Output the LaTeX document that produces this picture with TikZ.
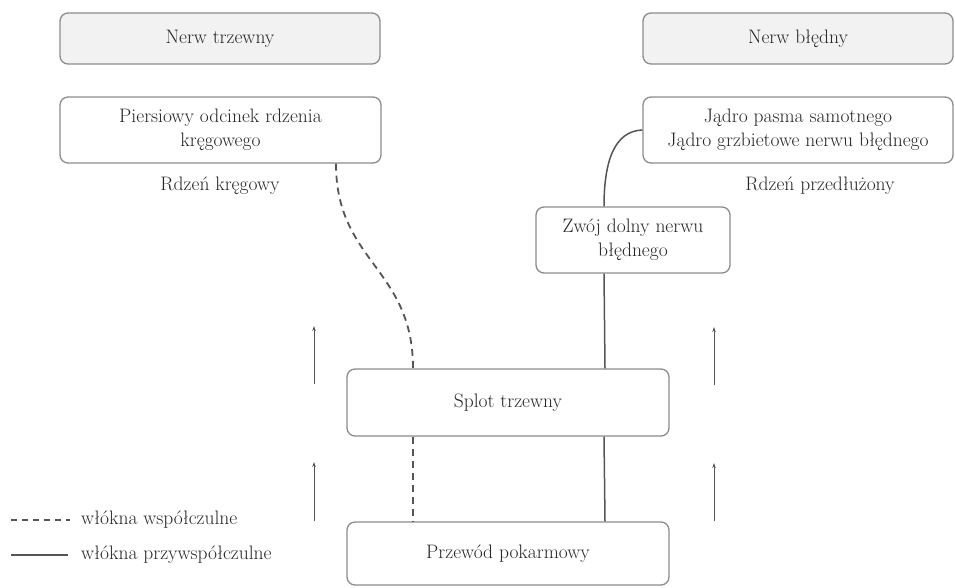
\documentclass[tikz,border=0pt]{standalone}
\usepackage{fontspec}
\usetikzlibrary{calc,arrows.meta}
\definecolor{boxline}{HTML}{8C8C8C}
\definecolor{txt}{HTML}{262626}
\definecolor{head}{HTML}{F2F2F2}
\definecolor{wire}{HTML}{555555}
\begin{document}
\begin{tikzpicture}[x=1pt,y=-1pt,
 box/.style={draw=boxline, line width=1.3pt, rounded corners=8pt, fill=white, text=txt, align=center, font=\fontsize{19.5}{23.5}\selectfont, inner sep=0pt},
 headbox/.style={box, fill=head},
 lbl/.style={text=txt, font=\fontsize{19.5}{24}\selectfont, inner sep=0pt},
 symp/.style={draw=wire, line width=1.8pt, dash pattern=on 7pt off 5pt},
 para/.style={draw=wire, line width=1.5pt},
 uparrow/.style={draw=wire, line width=1pt, -{Stealth[length=5pt,width=3.5pt]}}
]
\useasboundingbox (0,0) rectangle (955,587);
% boxes
\node[headbox, minimum width=320pt, minimum height=51pt] (nt) at (220,38.5) {Nerw trzewny};
\node[box, minimum width=321pt, minimum height=66pt] (pier) at (220.5,130) {Piersiowy odcinek rdzenia\\kręgowego};
\node[lbl] (rk) at (220,186) {Rdzeń kręgowy};
\node[headbox, minimum width=310pt, minimum height=51pt] (nb) at (798,38.5) {Nerw błędny};
\node[box, minimum width=310pt, minimum height=66pt] (jad) at (798,130) {Jądro pasma samotnego\\Jądro grzbietowe nerwu błędnego};
\node[lbl] (rp) at (820,186) {Rdzeń przedłużony};
\node[box, minimum width=194pt, minimum height=66pt] (zw) at (633,240) {Zwój dolny nerwu\\błędnego};
\node[box, minimum width=322pt, minimum height=67pt] (sp) at (508,402.5) {Splot trzewny};
\node[box, minimum width=322pt, minimum height=63pt] (pp) at (508,553.5) {Przewód pokarmowy};
% sympathetic (dashed)
\draw[symp] ($(pier.south)+(115.5,0)$) .. controls (336,262) and (413,268) .. ($(sp.north)+(-95,0)$);
\draw[symp] ($(sp.south)+(-95,0)$) -- ($(pp.north)+(-95,0)$);
% parasympathetic (solid)
\draw[para] (jad.west) .. controls (614,131) and (604,162) .. ($(zw.north)+(-29,0)$);
\draw[para] ($(zw.south)+(-29,0)$) -- ($(sp.north)+(97,0)$);
\draw[para] ($(sp.south)+(96,0)$) -- ($(pp.north)+(97,0)$);
% direction arrows
\coordinate (a1s) at (314,384); \coordinate (a1e) at (314,326);
\coordinate (a2s) at (314,521); \coordinate (a2e) at (314,462);
\coordinate (a3s) at (714,385); \coordinate (a3e) at (714,327);
\coordinate (a4s) at (714,521); \coordinate (a4e) at (714,463);
\draw[uparrow] (a1s) -- (a1e);
\draw[uparrow] (a2s) -- (a2e);
\draw[uparrow] (a3s) -- (a3e);
\draw[uparrow] (a4s) -- (a4e);
% legend
\coordinate (l1a) at (11,520); \coordinate (l1b) at (70,520);
\coordinate (l2a) at (11,555); \coordinate (l2b) at (68,555);
\draw[draw=wire, line width=1.4pt, dash pattern=on 6pt off 5pt] (l1a) -- (l1b);
\draw[para] (l2a) -- (l2b);
\node[lbl, anchor=west] (lw) at (81,520) {włókna współczulne};
\node[lbl, anchor=west] (lp) at (81,555) {włókna przywspółczulne};
\end{tikzpicture}
\end{document}
